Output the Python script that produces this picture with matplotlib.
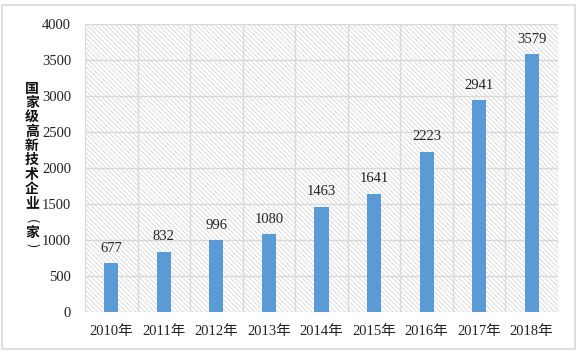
import matplotlib
matplotlib.use("Agg")
import matplotlib.pyplot as plt
from matplotlib.patches import Rectangle
import numpy as np

years = ["2010年", "2011年", "2012年", "2013年", "2014年", "2015年", "2016年", "2017年", "2018年"]
values = [677, 832, 996, 1080, 1463, 1641, 2223, 2941, 3579]
yticks = [0, 500, 1000, 1500, 2000, 2500, 3000, 3500, 4000]
ylabel_main = "国家级高新技术企业"
ylabel_unit = "家"

plt.rcParams['hatch.color'] = '#d6d6d6'
plt.rcParams['hatch.linewidth'] = 0.6

W, H = 578, 356
fig = plt.figure(figsize=(W/100, H/100), dpi=100)
ax = fig.add_axes([85/W, 1-312/H, (558-85)/W, (312-24)/H])

serif = ['Liberation Serif', 'Noto Sans CJK SC']
cjk = ['Noto Sans CJK SC', 'DejaVu Sans']

# figure border
fig.patches.append(Rectangle((2/W, 1-349/H), 573/W, 344/H, transform=fig.transFigure,
                             fill=False, edgecolor='#d9d9d9', linewidth=1.2))

ax.add_patch(Rectangle((0, 0), 1, 1, transform=ax.transAxes, facecolor='white',
                       hatch='\\' * 7, edgecolor='#d6d6d6', linewidth=0, zorder=0))

x = np.arange(len(years))
ax.bar(x, values, width=0.27, color='#5B9BD5', zorder=3)
for xi, v in zip(x, values):
    ax.text(xi, v + 120, str(v), ha='center', va='bottom', fontsize=10.5,
            family=serif, color='#222222', zorder=4)

ax.set_xlim(-0.5, len(years) - 0.5)
ax.set_ylim(0, 4000)
ax.set_yticks(yticks)
ax.set_yticklabels([str(t) for t in yticks], family=serif, fontsize=10.5, color='#222222')
ax.set_xticks(x)
ax.set_xticklabels(years, family=serif, fontsize=10.5, color='#222222')
ax.tick_params(length=0, pad=10)
ax.tick_params(axis='x', pad=9)

for t in yticks:
    ax.axhline(t, color='#d9d9d9', linewidth=1, zorder=1)
for b in np.arange(-0.5, len(years), 1.0):
    ax.axvline(b, color='#d9d9d9', linewidth=1, zorder=1)
for s in ax.spines.values():
    s.set_visible(False)

# vertical stacked y-axis label
lx = 32 / W
y0, step = 89, 14.25
for i, ch in enumerate(ylabel_main):
    fig.text(lx, 1 - (y0 + i * step) / H, ch, ha='center', va='center', fontsize=10,
             fontweight='bold', family=cjk, color='#111111')
fig.text(lx, 1 - 221 / H, "(", ha='center', va='center', fontsize=9, rotation=-90,
         rotation_mode='anchor', family=cjk, color='#111111')
fig.text(lx, 1 - 233 / H, ylabel_unit, ha='center', va='center', fontsize=10,
         fontweight='bold', family=cjk, color='#111111')
fig.text(lx, 1 - 245 / H, ")", ha='center', va='center', fontsize=9, rotation=-90,
         rotation_mode='anchor', family=cjk, color='#111111')

fig.savefig("out.png", dpi=100)
